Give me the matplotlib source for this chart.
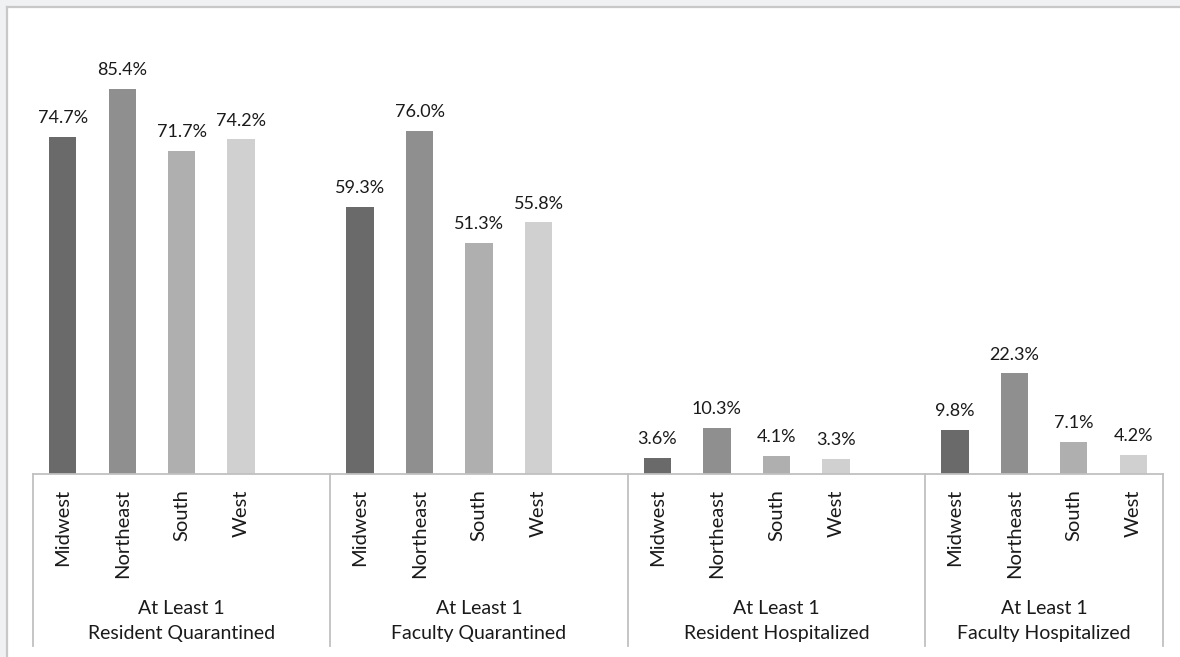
import matplotlib
matplotlib.use("Agg")
import matplotlib.pyplot as plt
from matplotlib.patches import Rectangle
from matplotlib.lines import Line2D

regions = ["Midwest", "Northeast", "South", "West"]
groups = ["At Least 1\nResident Quarantined", "At Least 1\nFaculty Quarantined",
          "At Least 1\nResident Hospitalized", "At Least 1\nFaculty Hospitalized"]
resident_quarantined = [74.7, 85.4, 71.7, 74.2]
faculty_quarantined = [59.3, 76.0, 51.3, 55.8]
resident_hospitalized = [3.6, 10.3, 4.1, 3.3]
faculty_hospitalized = [9.8, 22.3, 7.1, 4.2]
series = [resident_quarantined, faculty_quarantined, resident_hospitalized, faculty_hospitalized]
colors = ["#6a6a6a", "#8f8f8f", "#afafaf", "#d0d0d0"]

plt.rcParams['font.family'] = ['Lato', 'DejaVu Sans']

W, H = 1180, 657
fig = plt.figure(figsize=(W / 100, H / 100), dpi=100)
fig.patch.set_facecolor("white")

# frame strips
fig.patches.append(Rectangle((0, 0), 6 / W, 1, transform=fig.transFigure, color="#f0f1f3", zorder=0))
fig.patches.append(Rectangle((0, 1 - 6 / H), 1, 6 / H, transform=fig.transFigure, color="#f0f1f3", zorder=0))
fig.lines.append(Line2D([7 / W, 7 / W], [0, 1 - 7 / H], transform=fig.transFigure, color="#c8c8c8", lw=1.6))
fig.lines.append(Line2D([7 / W, 1], [1 - 7 / H, 1 - 7 / H], transform=fig.transFigure, color="#c8c8c8", lw=1.6))

left, right = 33 / W, 1163 / W
bottom, top = 1 - 474 / H, 1 - 23 / H
ax = fig.add_axes([left, bottom, right - left, top - bottom])
ax.set_facecolor("none")

slots_per_group = 5
xs_all, labels_all = [], []
for g, vals in enumerate(series):
    for i, v in enumerate(vals):
        x = g * slots_per_group + i
        ax.bar(x, v, width=0.46, color=colors[i], zorder=2)
        ax.text(x, v + 2.4, f"{v:.1f}%", ha="center", va="bottom", fontsize=13, color="#1a1a1a")
        xs_all.append(x)
        labels_all.append(regions[i])

n_slots = len(series) * slots_per_group - 1
ax.set_xlim(-0.5, n_slots - 0.5)
ax.set_ylim(0, 100)
ax.set_yticks([])
ax.set_xticks(xs_all)
ax.set_xticklabels(labels_all, rotation=90, fontsize=14.5, color="#1a1a1a", va="top")
ax.tick_params(axis="x", length=0, pad=11)
for s in ["left", "top", "right"]:
    ax.spines[s].set_visible(False)
ax.spines["bottom"].set_color("#c0c0c0")
ax.spines["bottom"].set_linewidth(1.3)

depth = -(646 - 474) / (474 - 23)
trans = ax.get_xaxis_transform()
bounds = [-0.5] + [g * slots_per_group + 4.5 for g in range(len(series) - 1)] + [n_slots - 0.5]
for b in bounds:
    ax.plot([b, b], [0, depth], transform=trans, clip_on=False, color="#c0c0c0", lw=1.3)

for g, name in enumerate(groups):
    lo = bounds[g]
    hi = bounds[g + 1]
    ax.text((lo + hi) / 2, -(621 - 474) / (474 - 23), name, transform=trans, ha="center", va="center",
            fontsize=14, color="#1a1a1a", linespacing=1.55)

fig.savefig("out.png", dpi=100)
